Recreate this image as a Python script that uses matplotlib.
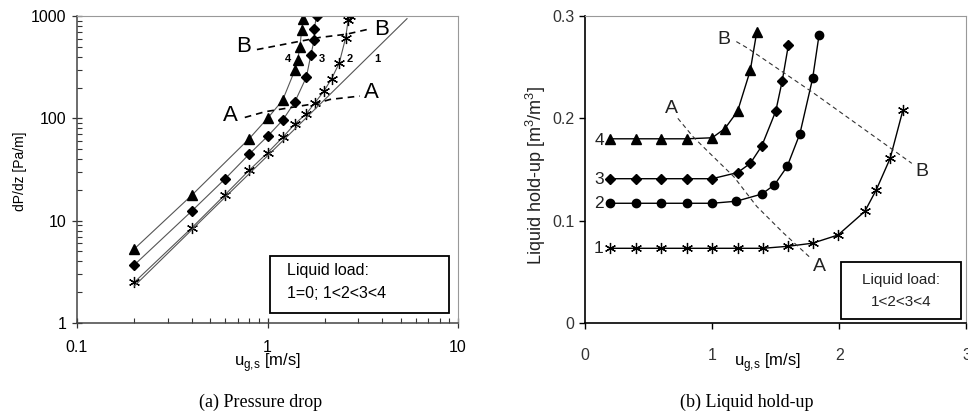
import matplotlib
matplotlib.use('Agg')
import matplotlib.pyplot as plt
from matplotlib.patches import Rectangle

plt.rcParams['font.family'] = ['Liberation Sans', 'DejaVu Sans']
plt.rcParams['mathtext.fontset'] = 'custom'
plt.rcParams['mathtext.rm'] = 'Liberation Sans'

# ---- (a) pressure drop data ----
u4_a = [0.2, 0.4, 0.8, 1.0, 1.2, 1.39, 1.44, 1.48, 1.51, 1.54]
dp4 = [5.3, 17.7, 63, 100, 150, 294, 374, 498, 724, 942]
u3_a = [0.2, 0.4, 0.6, 0.8, 1.0, 1.2, 1.39, 1.6, 1.69, 1.76, 1.76, 1.81]
dp3 = [3.7, 12.4, 25.7, 44.5, 66.7, 95.6, 144, 253, 419, 587, 752, 1000]
u2_a = [0.2, 0.4, 0.6, 0.8, 1.0, 1.2, 1.4, 1.6, 1.77, 1.98, 2.17, 2.38, 2.57, 2.65, 2.7]
dp2 = [2.5, 8.5, 18, 31, 46, 65, 89, 111, 141, 185, 244, 347, 610, 907, 1000]
u1_a = [0.2, 0.5, 1.0, 2.0, 5.4]
dp1 = [2.3, 12.2, 43, 153, 942]
uA_a = [0.76, 0.97, 1.81, 2.13, 3.05]
dpA = [102, 116, 140, 153, 165]
uB_a = [0.88, 1.88, 2.6, 3.52]
dpB = [470, 617, 664, 755]

# ---- (b) liquid hold-up data ----
u4_b = [0.2, 0.4, 0.6, 0.8, 1.0, 1.1, 1.2, 1.3, 1.35]
h4 = [0.18, 0.18, 0.18, 0.18, 0.181, 0.19, 0.207, 0.247, 0.284]
u3_b = [0.2, 0.4, 0.6, 0.8, 1.0, 1.2, 1.3, 1.39, 1.5, 1.55, 1.6]
h3 = [0.141, 0.141, 0.141, 0.141, 0.141, 0.147, 0.156, 0.173, 0.207, 0.236, 0.272]
u2_b = [0.2, 0.4, 0.6, 0.8, 1.0, 1.19, 1.39, 1.49, 1.59, 1.69, 1.79, 1.84]
h2 = [0.117, 0.117, 0.117, 0.117, 0.117, 0.119, 0.126, 0.135, 0.153, 0.185, 0.239, 0.281]
u1_b = [0.2, 0.4, 0.6, 0.8, 1.0, 1.2, 1.4, 1.6, 1.79, 1.99, 2.2, 2.29, 2.4, 2.5]
h1 = [0.073, 0.073, 0.073, 0.073, 0.073, 0.073, 0.073, 0.075, 0.078, 0.086, 0.109, 0.13, 0.161, 0.208]
uA_b = [0.73, 0.85, 0.98, 1.17, 1.35, 1.56, 1.77]
hA = [0.2, 0.182, 0.166, 0.143, 0.114, 0.088, 0.064]
uB_b = [1.19, 1.28, 1.8, 2.57]
hB = [0.275, 0.2685, 0.2245, 0.156]

star = (6, 2, 0)

fig = plt.figure(figsize=(9.68, 4.16), dpi=100)

# ================= (a) =================
ax1 = fig.add_axes([77 / 968, 93 / 416, 381 / 968, 307 / 416])
lc = '#555555'
ax1.plot(u4_a, dp4, color=lc, lw=0.8, marker='^', ms=7, mfc='black', mec='black')
ax1.plot(u3_a, dp3, color=lc, lw=0.8, marker='D', ms=5, mfc='black', mec='black')
ax1.plot(u2_a, dp2, color=lc, lw=0.8, marker=star, ms=8, mfc='black', mec='black', mew=0.9)
ax1.plot(u1_a, dp1, color=lc, lw=0.8)
ax1.plot(uA_a, dpA, color='black', lw=1.2, ls=(0, (4, 3)))
ax1.plot(uB_a, dpB, color='black', lw=1.2, ls=(0, (4, 3)))
ax1.set_xscale('log')
ax1.set_yscale('log')
ax1.set_xlim(0.1, 10)
ax1.set_ylim(1, 1000)
ax1.set_xticks([0.1, 1, 10], ['0.1', '1', '10'])
ax1.set_yticks([1, 10, 100, 1000], ['1', '10', '100', '1000'])
ax1.tick_params(which='major', direction='inout', length=7, width=0.9, labelsize=11.5, pad=6, color='#333333')
ax1.tick_params(which='minor', direction='in', length=3.5, width=0.8, color='#333333')
ax1.tick_params(axis='x', which='major', pad=9)
ax1.tick_params(axis='y', which='major', pad=4)
for s in ['left', 'bottom']:
    ax1.spines[s].set_color('#444444')
    ax1.spines[s].set_linewidth(1.1)
for s in ['top', 'right']:
    ax1.spines[s].set_color('#999999')
    ax1.spines[s].set_linewidth(0.8)

ax1.text(0.635, 107, 'A', fontsize=16, ha='center', va='center')
ax1.text(0.745, 507, 'B', fontsize=16, ha='center', va='center')
ax1.text(3.98, 743, 'B', fontsize=16, ha='center', va='center')
ax1.text(3.52, 180, 'A', fontsize=16, ha='center', va='center')
for lab, xx in zip(['4', '3', '2', '1'], [1.285, 1.93, 2.7, 3.75]):
    ax1.text(xx, 380, lab, fontsize=8, fontweight='bold', ha='center', va='center')

ax1.add_patch(Rectangle((0.507, 0.033), 0.469, 0.185, transform=ax1.transAxes,
                        fill=False, lw=1.3, ec='black'))
ax1.text(0.552, 0.17, 'Liquid load:', transform=ax1.transAxes, fontsize=11.5, va='center')
ax1.text(0.552, 0.095, '1=0; 1<2<3<4', transform=ax1.transAxes, fontsize=11.5, va='center')

fig.text(20 / 968, 1 - 171 / 416, 'dP/dz [Pa/m]', rotation=90, ha='center', va='center', fontsize=10)
fig.text(267 / 968, 1 - 363 / 416, r'u$_{\rm g{,}s}$ [m/s]', ha='center', va='center', fontsize=12)

# ================= (b) =================
ax2 = fig.add_axes([585 / 968, 93 / 416, 381.5 / 968, 307 / 416])
ax2.plot(u4_b, h4, color='black', lw=1.0, marker='^', ms=6.5)
ax2.plot(u3_b, h3, color='black', lw=1.0, marker='D', ms=5)
ax2.plot(u2_b, h2, color='black', lw=1.0, marker='o', ms=6)
ax2.plot(u1_b, h1, color='black', lw=1.0, marker=star, ms=8, mew=0.9)
ax2.plot(uA_b, hA, color='#333333', lw=0.8, ls=(0, (4, 3)))
ax2.plot(uB_b, hB, color='#333333', lw=0.8, ls=(0, (4, 3)))
ax2.set_xlim(0, 3)
ax2.set_ylim(0, 0.3)
ax2.set_xticks([0, 1, 2, 3], ['0', '1', '2', '3'])
ax2.set_yticks([0, 0.1, 0.2, 0.3], ['0', '0.1', '0.2', '0.3'])
ax2.tick_params(direction='out', length=4, width=1.0, labelsize=11.5, labelcolor='#333333')
ax2.tick_params(axis='x', pad=14)
for s in ['left', 'bottom']:
    ax2.spines[s].set_color('black')
    ax2.spines[s].set_linewidth(1.2)
for s in ['top', 'right']:
    ax2.spines[s].set_color('#999999')
    ax2.spines[s].set_linewidth(0.8)

ax2.text(0.68, 0.21, 'A', fontsize=14, ha='center', va='center', color='#222222')
ax2.text(1.096, 0.277, 'B', fontsize=14, ha='center', va='center', color='#222222')
ax2.text(1.84, 0.0553, 'A', fontsize=14, ha='center', va='center', color='#222222')
ax2.text(2.647, 0.148, 'B', fontsize=14, ha='center', va='center', color='#222222')
for lab, yy in zip(['4', '3', '2', '1'], [0.178, 0.14, 0.117, 0.073]):
    ax2.text(0.11, yy, lab, fontsize=12.5, ha='center', va='center', color='#222222')

ax2.add_patch(Rectangle((0.67, 0.013), 0.3156, 0.187, transform=ax2.transAxes,
                        fill=False, lw=1.3, ec='black'))
ax2.text(0.828, 0.14, 'Liquid load:', transform=ax2.transAxes, fontsize=11, ha='center', va='center',
         color='#222222')
ax2.text(0.828, 0.068, '1<2<3<4', transform=ax2.transAxes, fontsize=11, ha='center', va='center',
         color='#222222')

fig.text(536 / 968, 1 - 175 / 416, 'Liquid hold-up [m$^3$/m$^3$]', rotation=90, ha='center', va='center',
         fontsize=13, color='#222222')
fig.text(767 / 968, 1 - 363 / 416, r'u$_{\rm g{,}s}$ [m/s]', ha='center', va='center', fontsize=12)

# captions
fig.text(261 / 968, 1 - 402 / 416, '(a) Pressure drop', ha='center', va='center', fontsize=13,
         family=['Liberation Serif', 'DejaVu Serif'])
fig.text(747 / 968, 1 - 402 / 416, '(b) Liquid hold-up', ha='center', va='center', fontsize=13,
         family=['Liberation Serif', 'DejaVu Serif'])

plt.savefig('out.png', dpi=100)
